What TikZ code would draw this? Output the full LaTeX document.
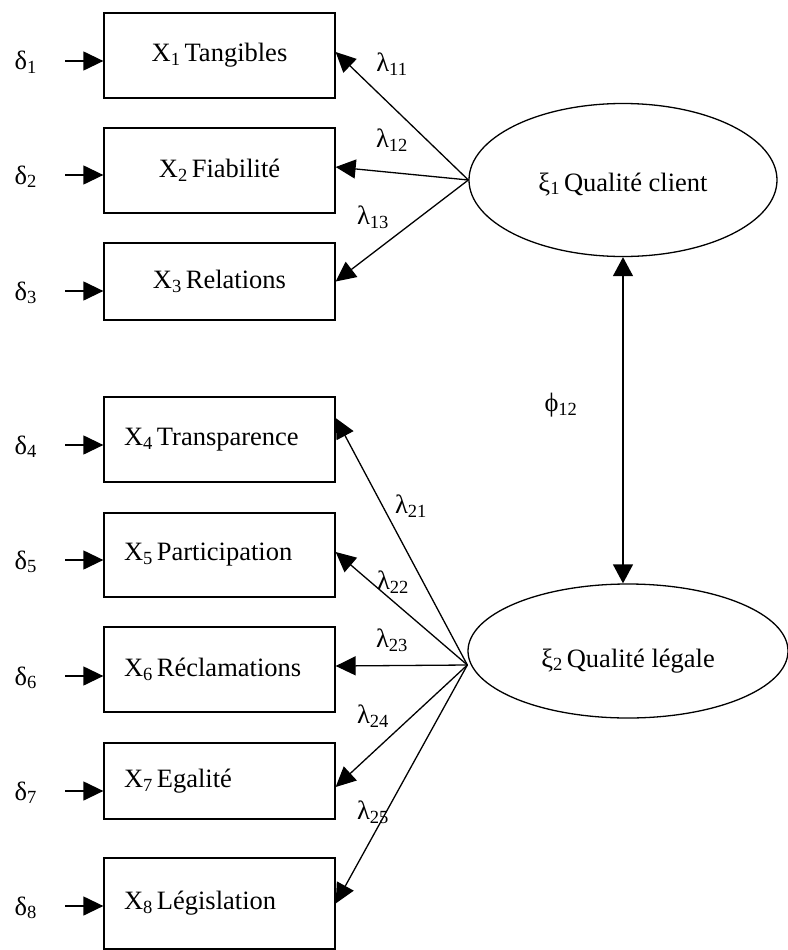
\documentclass[tikz,border=0pt]{standalone}
\usepackage{fontspec}
\setmainfont{Liberation Serif}
\usetikzlibrary{arrows.meta,shapes.geometric}

\tikzset{
	mbox/.style={draw, line width=1.3pt, inner xsep=20pt, inner ysep=0pt, text width=191pt},
	latent/.style={draw, ellipse, line width=1.3pt, inner sep=0pt},
	path arrow/.style={line width=1.3pt, -{Triangle[length=20pt,width=19pt]}},
}

\begin{document}
\begin{tikzpicture}[x=1pt, y=-1pt, every node/.style={font=\fontsize{26.5}{31}\selectfont}]
	\useasboundingbox (0,0) rectangle (787,950);
	\node[latent, minimum width=308pt, minimum height=153pt] (xi1) at (623,180) {\raisebox{-11pt}[0pt][0pt]{ξ\textsubscript{1}\hspace{4pt}Qualité client}};
	\node[latent, minimum width=320pt, minimum height=134pt] (xi2) at (628,651) {\raisebox{-16pt}[0pt][0pt]{ξ\textsubscript{2}\hspace{4pt}Qualité légale}};
	\coordinate (src2) at ([yshift=-14pt]xi2.west);
	\foreach \n/\cy/\h/\al/\ay/\lab in {1/55.5/85/center/61/Tangibles, 2/170.5/85/center/175/Fiabilité, 3/281.5/77/center/291/Relations, 4/439.5/85/left/445/Transparence, 5/555/84/left/560/Participation, 6/669.5/85/left/676/Réclamations, 7/781/76/left/791/Egalité, 8/903.5/91/left/906/Législation} {
		\node[mbox, align=\al, minimum height=\h pt] (x\n) at (219.5,\cy) {X\textsubscript{\n}\hspace{4pt}\lab};
		\coordinate (e\n) at (65,\ay);
		\node[anchor=base west] (d\n) at (11,\ay+9) {δ\textsubscript{\n}};
		\draw[path arrow] (e\n) -- (e\n -| x\n.west);
	}
	\foreach \t/\s/\lx/\ly/\lab in {x1/3.5/392/64/11, x2/3.5/392/140/12, x3/0/373/217/13} {
		\draw[path arrow] (xi1.west) -- ([yshift=\s pt]\t.east);
		\node (l\lab) at (\lx,\ly) {λ\textsubscript{\lab}};
	}
	\foreach \t/\s/\lx/\ly/\lab in {x4/21.5/411/506/21, x5/3/393/582/22, x6/3.5/392/640/23, x7/-6/373/716/24, x8/0/373/812/25} {
		\draw[path arrow] (src2) -- ([yshift=\s pt]\t.east);
		\node (l\lab) at (\lx,\ly) {λ\textsubscript{\lab}};
	}
	\draw[line width=1.3pt, {Triangle[length=19pt,width=20pt]}-{Triangle[length=19pt,width=20pt]}] (xi1.south) -- (xi1.south |- xi2.north);
	\node (phi) at (561,405) {ϕ\textsubscript{12}};
\end{tikzpicture}
\end{document}
